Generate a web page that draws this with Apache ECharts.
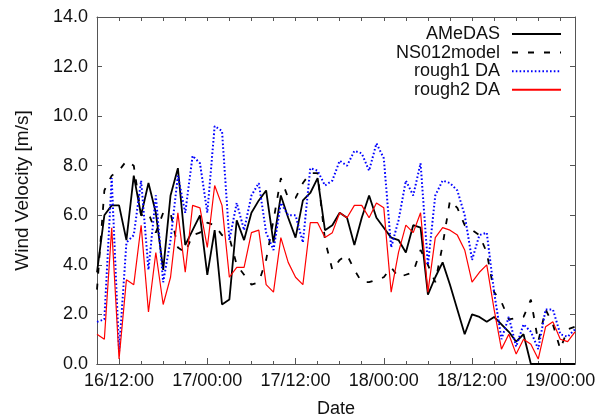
<!DOCTYPE html>
<html>
<head>
<meta charset="utf-8">
<title>Wind Velocity</title>
<script src="https://cdn.jsdelivr.net/npm/echarts@6/dist/echarts.min.js"></script>
<style>
  html, body { margin: 0; padding: 0; background: #fff; }
  #chart { width: 603px; height: 414px; }
</style>
</head>
<body>
<div id="chart"></div>
<script>
// hourly samples, 16/09:00 .. 19/02:00
const startDay = 16;
const startHour = 9;
const hourCount = 66;

const amedas = [
  3.7, 6.0, 6.4, 6.4, 5.0, 7.6, 6.0, 7.3, 6.1, 3.8,
  6.8, 7.9, 4.8, 5.4, 6.0, 3.6, 5.4, 2.4, 2.6, 5.8,
  5.0, 6.1, 6.6, 7.0, 4.9, 6.8, 5.9, 5.1, 6.6, 6.9,
  7.5, 5.4, 5.6, 6.1, 5.9, 4.8, 5.9, 6.8, 5.9, 5.5,
  5.1, 5.0, 4.5, 5.6, 5.5, 2.8, 3.5, 4.1, 3.2, 2.2,
  1.2, 2.0, 1.9, 1.7, 1.9, 1.6, 1.3, 0.9, 1.2, 0.0,
  0.0, 0.0, 0.0, 0.0, 0.0, 0.0
];
const ns012model = [
  3.0, 7.0, 7.6, 7.8, 8.2, 8.0, 6.0, 6.1, 5.3, 6.1,
  6.1, 4.7, 4.5, 5.2, 5.3, 5.7, 5.6, 5.2, 5.1, 4.0,
  3.6, 3.2, 3.3, 4.2, 5.8, 7.5, 6.7, 6.7, 7.3, 7.7,
  7.7, 5.0, 3.8, 4.2, 4.4, 3.8, 3.3, 3.3, 3.4, 3.5,
  3.9, 3.5, 3.6, 3.7, 4.6, 4.0, 3.3, 4.8, 6.6, 6.3,
  5.6, 5.4, 5.2, 4.5, 2.9, 2.5, 1.8, 1.85, 1.9, 2.6,
  0.9, 2.2, 1.6, 0.6, 1.4, 1.5
];
const rough1 = [
  1.7, 1.8, 7.5, 0.5, 4.9, 5.2, 7.4, 3.8, 6.8, 3.3,
  5.0, 7.6, 6.1, 8.4, 8.1, 6.1, 9.6, 9.4, 5.0, 6.5,
  5.4, 6.8, 7.3, 5.3, 4.6, 6.5, 6.0, 6.0, 4.9, 7.9,
  7.8, 7.2, 7.4, 8.2, 8.0, 8.6, 8.5, 7.8, 8.9, 8.3,
  4.7, 5.8, 7.4, 6.8, 8.1, 4.0, 6.8, 7.4, 7.3, 7.0,
  6.0, 4.2, 5.2, 5.3, 2.9, 1.0, 1.9, 0.7, 1.6, 1.3,
  0.6, 2.2, 2.2, 1.2, 1.1, 1.4
];
const rough2 = [
  1.2, 1.0, 5.5, 0.2, 3.4, 3.2, 5.6, 2.1, 4.5, 2.4,
  3.5, 6.1, 3.7, 6.4, 6.3, 4.7, 7.2, 6.4, 3.5, 3.9,
  3.9, 5.3, 5.4, 3.2, 2.9, 5.1, 4.1, 3.5, 3.2, 5.7,
  5.7, 5.1, 5.3, 6.1, 5.9, 6.4, 6.4, 5.9, 6.5, 6.3,
  2.9, 4.5, 5.6, 5.3, 6.1, 2.9, 5.1, 5.5, 5.4, 5.2,
  4.6, 3.3, 3.7, 4.0, 2.2, 0.6, 1.2, 0.4, 1.0, 0.8,
  0.2, 1.5, 1.7, 1.0, 0.9, 1.3
];

const pad = n => String(n).padStart(2, '0');
const hours = [];
for (let i = 0; i < hourCount; i++) {
  const t = startHour + i;
  hours.push(pad(startDay + Math.floor(t / 24)) + '/' + pad(t % 24) + ':00');
}
const hourOf = v => parseInt(v.slice(3, 5), 10);
const isMajor = (i, v) => hourOf(v) % 12 === 0;
const isMinor = (i, v) => hourOf(v) % 3 === 0;

const font = 'Liberation Sans, Arial, sans-serif';
const textColor = '#111';
const axisColor = '#555';

const chart = echarts.init(document.getElementById('chart'));

const baseX = {
  type: 'category',
  data: hours,
  boundaryGap: false,
  axisLine: { show: true, lineStyle: { color: axisColor, width: 1 } },
  splitLine: { show: false }
};

const option = {
  animation: false,
  grid: { left: 97, right: 28, top: 17, bottom: 50, outerBoundsMode: 'none' },
  legend: {
    orient: 'vertical',
    right: 36,
    top: 20,
    align: 'right',
    itemWidth: 49,
    itemHeight: 10,
    itemGap: 0.6,
    itemStyle: { opacity: 0 },
    textStyle: {
      fontFamily: font, fontSize: 18, color: textColor,
      lineHeight: 18, padding: [0, 7, 0, 0]
    },
    data: ['AMeDAS', 'NS012model', 'rough1 DA', 'rough2 DA']
  },
  xAxis: [
    Object.assign({}, baseX, {
      position: 'bottom',
      name: 'Date',
      nameLocation: 'middle',
      nameGap: 36,
      nameTextStyle: { fontFamily: font, fontSize: 18, color: textColor },
      axisTick: { show: true, inside: true, length: 6, interval: isMajor, lineStyle: { color: axisColor } },
      axisLabel: {
        show: true, interval: isMajor, margin: 8,
        fontFamily: font, fontSize: 18, color: textColor
      }
    }),
    Object.assign({}, baseX, {
      position: 'bottom',
      axisTick: { show: true, inside: true, length: 3, interval: isMinor, lineStyle: { color: axisColor } },
      axisLabel: { show: false }
    }),
    Object.assign({}, baseX, {
      position: 'top',
      axisTick: { show: true, inside: true, length: 4, interval: isMinor, lineStyle: { color: axisColor } },
      axisLabel: { show: false }
    })
  ],
  yAxis: [
    {
      type: 'value',
      position: 'left',
      min: 0,
      max: 14,
      interval: 2,
      name: 'Wind Velocity [m/s]',
      nameLocation: 'middle',
      nameGap: 65,
      nameTextStyle: { fontFamily: font, fontSize: 19, color: textColor },
      axisLine: { show: true, lineStyle: { color: axisColor, width: 1 } },
      axisTick: { show: true, inside: true, length: 5, lineStyle: { color: axisColor } },
      axisLabel: {
        margin: 9,
        fontFamily: font, fontSize: 18, color: textColor,
        formatter: v => v.toFixed(1)
      },
      splitLine: { show: false }
    },
    {
      type: 'value',
      position: 'right',
      min: 0,
      max: 14,
      interval: 2,
      axisLine: { show: true, lineStyle: { color: axisColor, width: 1 } },
      axisTick: { show: true, inside: true, length: 5, lineStyle: { color: axisColor } },
      axisLabel: { show: false },
      splitLine: { show: false }
    }
  ],
  series: [
    {
      name: 'AMeDAS', type: 'line', data: amedas, symbol: 'none',
      lineStyle: { color: '#000', width: 1.8 }, itemStyle: { color: '#000' }
    },
    {
      name: 'NS012model', type: 'line', data: ns012model, symbol: 'none',
      lineStyle: { color: '#000', width: 1.8, type: [6, 10] }, itemStyle: { color: '#000' }
    },
    {
      name: 'rough1 DA', type: 'line', data: rough1, symbol: 'none',
      lineStyle: { color: '#0000ff', width: 2, type: [1.6, 2.2] }, itemStyle: { color: '#0000ff' }
    },
    {
      name: 'rough2 DA', type: 'line', data: rough2, symbol: 'none',
      lineStyle: { color: '#ff0000', width: 1.2 }, itemStyle: { color: '#ff0000' }
    }
  ]
};

chart.setOption(option);
</script>
</body>
</html>
